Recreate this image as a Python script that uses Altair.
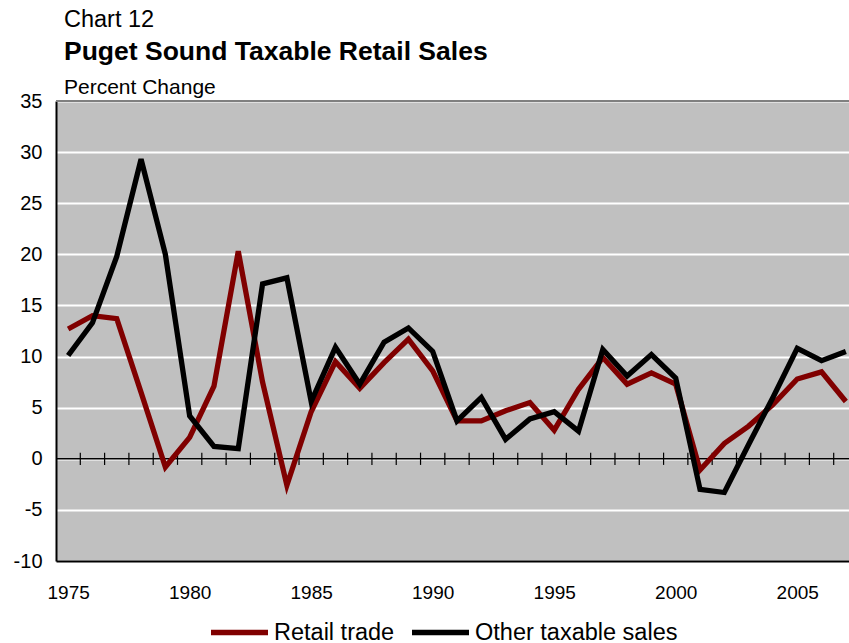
import altair as alt
import pandas as pd

years = list(range(1975, 2008))
retail_trade = [12.7, 14.0, 13.7, 6.5, -0.8, 2.1, 7.1, 20.3, 7.5, -2.6,
                4.6, 9.5, 6.9, 9.4, 11.7, 8.6, 3.7, 3.7, 4.7, 5.5,
                2.8, 6.8, 9.9, 7.3, 8.4, 7.3, -1.1, 1.5, 3.2, 5.3,
                7.8, 8.5, 5.6]
other_taxable = [10.1, 13.3, 19.8, 29.3, 20.0, 4.2, 1.2, 1.0, 17.1, 17.7,
                 5.6, 10.9, 7.3, 11.4, 12.8, 10.5, 3.7, 6.0, 1.9, 3.9,
                 4.6, 2.7, 10.7, 8.1, 10.2, 7.9, -3.0, -3.3, 1.4, 6.0,
                 10.8, 9.6, 10.5]
series_names = ["Retail trade", "Other taxable sales"]
series_colors = ["#800000", "#000000"]
x_label_years = [1975, 1980, 1985, 1990, 1995, 2000, 2005]
y_ticks = list(range(-10, 40, 5))
tick_marks = [y + 0.5 for y in range(1975, 2007)]

FONT = "Liberation Sans"

df = pd.DataFrame({"year": years, "Retail trade": retail_trade,
                   "Other taxable sales": other_taxable})
long = df.melt(id_vars="year", var_name="series", value_name="value")

x_scale = alt.Scale(domain=[1974.5, 2007.13], nice=False, zero=False)
y_scale = alt.Scale(domain=[-10, 35], nice=False)

color = alt.Color("series:N",
                  scale=alt.Scale(domain=series_names, range=series_colors),
                  legend=alt.Legend(title=None, orient="none", direction="horizontal",
                                    legendX=152, legendY=500,
                                    symbolType="stroke", symbolSize=3249,
                                    symbolStrokeWidth=5.3, labelFontSize=23.5,
                                    labelFont=FONT, labelColor="black", labelLimit=0,
                                    labelOffset=3, columnPadding=6, padding=0))

x_enc = alt.X("year:Q", scale=x_scale,
              axis=alt.Axis(values=x_label_years, format="d", title=None, grid=False,
                            ticks=False, domainColor="black", domainWidth=2,
                            labelFontSize=19, labelFont=FONT, labelColor="black",
                            labelPadding=22))
y_enc = alt.Y("value:Q", scale=y_scale,
              axis=alt.Axis(values=y_ticks, title=None, grid=True, gridColor="white",
                            gridWidth=2, ticks=False, domainColor="black", domainWidth=2,
                            labelFontSize=20, labelFont=FONT, labelColor="black",
                            labelPadding=14,
                            labelExpr="datum.value < 0 ? '-' + abs(datum.value) : '' + datum.value"))

base = alt.Chart(long)

red = base.transform_filter(alt.datum.series == "Retail trade").mark_line(
    strokeWidth=5.3, strokeJoin="miter").encode(x=x_enc, y=y_enc, color=color)
black = base.transform_filter(alt.datum.series == "Other taxable sales").mark_line(
    strokeWidth=5.3, strokeJoin="miter").encode(x=x_enc, y=y_enc, color=color)

zero_line = alt.Chart(pd.DataFrame({"z": [0]})).mark_rule(
    color="black", strokeWidth=1.5).encode(y=alt.Y("z:Q", scale=y_scale))
top_line = alt.Chart(pd.DataFrame({"z": [35]})).mark_rule(
    color="#808080", strokeWidth=2).encode(y=alt.Y("z:Q", scale=y_scale))

ticks = alt.Chart(pd.DataFrame({"t": tick_marks, "lo": -0.6, "hi": 0.6})).mark_rule(
    color="black", strokeWidth=1.2).encode(
    x=alt.X("t:Q", scale=x_scale), y=alt.Y("lo:Q", scale=y_scale), y2="hi:Q")

def label(txt, y, size, weight="normal"):
    return alt.Chart(pd.DataFrame({"t": [txt]})).mark_text(
        align="left", baseline="alphabetic", fontSize=size, fontWeight=weight,
        font=FONT, color="black").encode(text="t:N", x=alt.value(8), y=alt.value(y))

t1 = label("Chart 12", -74, 23.5)
t2 = label("Puget Sound Taxable Retail Sales", -41, 26.5, "bold")
t3 = label("Percent Change", -7, 21)

chart = alt.layer(top_line, zero_line, ticks, red, black, t1, t2, t3).properties(
    width=793, height=460,
    autosize=alt.AutoSizeParams(type="none"),
    padding={"left": 56, "top": 101, "right": 0, "bottom": 82},
    background="white",
).configure_view(fill="#C0C0C0", stroke=None)

chart.save("out.html", embed_options={"renderer": "svg", "actions": False})
